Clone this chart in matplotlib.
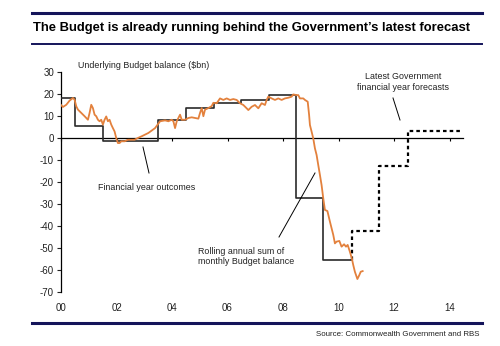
import matplotlib
matplotlib.use("Agg")
import matplotlib.pyplot as plt
from matplotlib.lines import Line2D
from matplotlib.transforms import blended_transform_factory

plt.rcParams['font.family'] = ['Liberation Sans', 'DejaVu Sans']

# ---- data (years since 2000, $bn) ----
rolling_x = [0.0, 0.07, 0.19, 0.31, 0.43, 0.49, 0.55, 0.61, 0.73, 0.85, 0.97, 1.03,
             1.09, 1.15, 1.21, 1.27, 1.33, 1.39, 1.45, 1.51, 1.57, 1.63, 1.69, 1.75,
             1.81, 1.87, 1.93, 1.99, 2.05, 2.11, 2.17, 2.29, 2.41, 2.53, 2.65, 2.77,
             2.91, 3.15, 3.39, 3.57, 3.75, 3.87, 3.99, 4.05, 4.11, 4.17, 4.23, 4.29,
             4.35, 4.47, 4.59, 4.71, 4.83, 4.95, 5.01, 5.07, 5.13, 5.19, 5.31, 5.43,
             5.49, 5.61, 5.73, 5.85, 5.97, 6.09, 6.21, 6.33, 6.45, 6.57, 6.69, 6.75,
             6.87, 6.99, 7.11, 7.23, 7.35, 7.41, 7.47, 7.59, 7.71, 7.83, 7.95, 8.07,
             8.19, 8.31, 8.37, 8.49, 8.55, 8.61, 8.73, 8.79, 8.89, 8.94, 8.97, 9.03,
             9.09, 9.15, 9.21, 9.27, 9.33, 9.39, 9.45, 9.51, 9.60, 9.69, 9.81, 9.87,
             9.93, 10.03, 10.11, 10.20, 10.27, 10.33, 10.41, 10.48, 10.53, 10.59,
             10.68, 10.75, 10.80, 10.87]
rolling_y = [15.0, 14.1, 15.1, 17.0, 18.2, 17.4, 14.4, 12.9, 11.4, 9.9, 8.3, 11.4,
             15.1, 13.6, 10.6, 9.9, 8.3, 7.6, 8.3, 6.1, 8.3, 9.8, 7.6, 8.3,
             6.1, 4.5, 3.0, 0.0, -2.3, -2.3, -1.5, -1.5, -0.8, -0.8, -0.8, 0.0,
             0.8, 2.3, 4.5, 7.6, 8.0, 7.6, 8.3, 7.6, 4.5, 7.6, 9.1, 10.6,
             8.3, 8.3, 9.1, 9.4, 9.1, 8.8, 11.4, 13.6, 9.9, 12.9, 13.6, 14.5,
             16.0, 15.8, 18.0, 17.3, 18.0, 17.3, 17.7, 17.3, 15.8, 15.0, 13.5, 12.7,
             14.2, 15.0, 13.5, 15.8, 15.0, 17.3, 18.8, 18.0, 17.3, 18.0, 17.3, 18.0,
             18.3, 18.8, 19.8, 19.5, 19.5, 18.0, 18.0, 17.3, 16.5, 10.5, 5.9, 2.9,
             -0.2, -4.7, -7.7, -12.3, -16.8, -21.4, -27.4, -32.7, -33.2, -38.0, -44.0, -47.9,
             -47.1, -46.8, -49.4, -48.3, -49.4, -48.6, -51.7, -54.7, -57.7, -60.8,
             -64.1, -62.3, -60.8, -60.5]

outcome_x = [0.0, 0.5, 1.5, 3.5, 4.5, 5.5, 6.5, 7.5, 8.47, 9.45, 10.48]
outcome_y = [18.2, 5.5, -1.3, 8.0, 13.6, 15.8, 17.3, 19.7, -27.3, -55.5, -55.5]

forecast_x = [10.48, 11.47, 12.49, 14.45]
forecast_y = [-55.5, -42.4, -12.7, 3.2]

xtick_pos = [0, 2, 4, 6, 8, 10, 12, 14]
xtick_labels = ['00', '02', '04', '06', '08', '10', '12', '14']
ytick_pos = [30, 20, 10, 0, -10, -20, -30, -40, -50, -60, -70]

navy = '#14145a'
orange = '#e3813d'

fig = plt.figure(figsize=(5.0, 3.46), dpi=100)
W, H = 500, 346

def fx(px):
    return px / W

def fy(py):
    return 1 - py / H

ax = fig.add_axes([fx(61), fy(292), fx(463.4) - fx(61), fy(72) - fy(292)])
ax.set_xlim(0, 14.5)
ax.set_ylim(-70, 30)

# outcome step line (held until the next step)
ax.step(outcome_x, outcome_y, where='post', color='#2a2a2a', lw=1.2, zorder=3)
ax.plot(rolling_x, rolling_y, color=orange, lw=1.3, zorder=4)
# forecast dotted steps: vertical first, then horizontal
ax.step(forecast_x, forecast_y, where='pre', color='black', lw=1.6,
        linestyle=(0, (1.6, 1.4)), zorder=3)

# spines
for s in ['top', 'right']:
    ax.spines[s].set_visible(False)
ax.spines['left'].set_linewidth(0.9)
ax.spines['bottom'].set_position(('data', 0))
ax.spines['bottom'].set_linewidth(0.9)

ax.set_yticks(ytick_pos)
ax.set_yticklabels([str(v) for v in ytick_pos])
ax.tick_params(axis='y', direction='out', length=3, width=0.8, labelsize=7, pad=2,
               colors='#222222')
ax.set_xticks(xtick_pos)
ax.tick_params(axis='x', direction='out', length=2.5, width=0.8, labelbottom=False)

trans = blended_transform_factory(ax.transData, fig.transFigure)
for p, lab in zip(xtick_pos, xtick_labels):
    ax.text(p, fy(308), lab, transform=trans, ha='center', va='center',
            fontsize=7, color='#222222')

# annotations
tfs = 6.4
fig.text(fx(78), fy(66), 'Underlying Budget balance ($bn)', ha='left', va='center',
         fontsize=tfs, color='#222222')
fig.text(fx(147), fy(188), 'Financial year outcomes', ha='center', va='center',
         fontsize=tfs, color='#222222')
fig.add_artist(Line2D([fx(143), fx(149)], [fy(147), fy(173)], color='black', lw=0.7,
                      transform=fig.transFigure))
fig.text(fx(198), fy(256.5), 'Rolling annual sum of\nmonthly Budget balance', ha='left',
         va='center', fontsize=tfs, color='#222222', linespacing=1.25)
fig.add_artist(Line2D([fx(279), fx(315)], [fy(237), fy(173)], color='black', lw=0.7,
                      transform=fig.transFigure))
fig.text(fx(403), fy(82), 'Latest Government\nfinancial year forecasts', ha='center',
         va='center', fontsize=tfs, color='#222222', linespacing=1.25)
fig.add_artist(Line2D([fx(393), fx(400)], [fy(98), fy(120)], color='black', lw=0.7,
                      transform=fig.transFigure))

# title and rules
fig.add_artist(Line2D([fx(32), fx(482)], [fy(13), fy(13)], color=navy, lw=2.2,
                      transform=fig.transFigure))
fig.add_artist(Line2D([fx(32), fx(482)], [fy(44), fy(44)], color=navy, lw=1.4,
                      transform=fig.transFigure))
fig.add_artist(Line2D([fx(32), fx(482)], [fy(322.7), fy(322.7)], color=navy, lw=2.2,
                      transform=fig.transFigure))
fig.text(fx(33), fy(27.5), "The Budget is already running behind the Government\u2019s latest forecast",
         ha='left', va='center', fontsize=9.4, fontweight='bold', color='black')
fig.text(fx(479), fy(334), 'Source: Commonwealth Government and RBS', ha='right',
         va='center', fontsize=5.7, color='#222222')

fig.savefig('out.png', dpi=100)
